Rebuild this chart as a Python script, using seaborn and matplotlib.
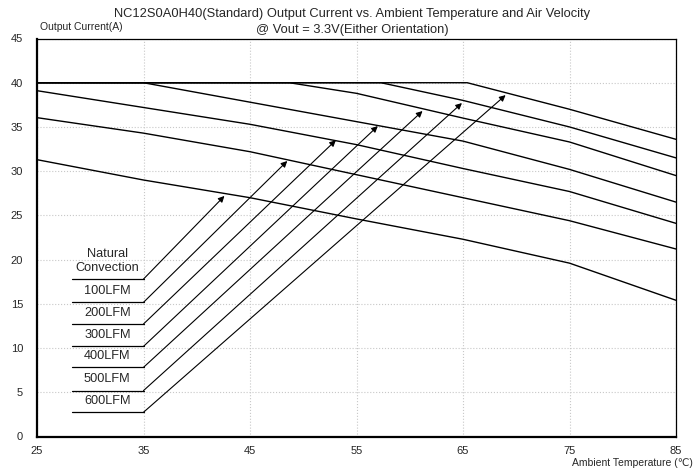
import numpy as np
import pandas as pd
import matplotlib
matplotlib.use("Agg")
import matplotlib.pyplot as plt
from matplotlib.ticker import MultipleLocator
import seaborn as sns

# derating curves (ambient temp in C, output current in A)
airflows = ["Natural Convection", "100LFM", "200LFM", "300LFM", "400LFM", "500LFM", "600LFM"]
curve_temp = {
    "Natural Convection": [25, 35, 45, 55, 65, 75, 85],
    "100LFM": [25, 35, 45, 55, 65, 75, 85],
    "200LFM": [25, 35, 45, 55, 65, 75, 85],
    "300LFM": [25, 35, 45, 55, 65, 75, 85],
    "400LFM": [25, 48.7, 55, 65, 75, 85],
    "500LFM": [25, 57.3, 65, 75, 85],
    "600LFM": [25, 65.4, 75, 85],
}
curve_current = {
    "Natural Convection": [31.3, 29.0, 27.0, 24.6, 22.3, 19.6, 15.4],
    "100LFM": [36.05, 34.3, 32.2, 29.6, 27.0, 24.4, 21.2],
    "200LFM": [39.1, 37.2, 35.3, 33.0, 30.3, 27.7, 24.1],
    "300LFM": [40.0, 40.0, 37.8, 35.6, 33.4, 30.2, 26.5],
    "400LFM": [40.0, 40.0, 38.8, 36.0, 33.3, 29.5],
    "500LFM": [40.0, 40.0, 38.0, 35.0, 31.5],
    "600LFM": [40.0, 40.0, 37.0, 33.6],
}

# callout labels: underline height and arrow tip on each curve
label_text = ["Natural\nConvection", "100LFM", "200LFM", "300LFM", "400LFM", "500LFM", "600LFM"]
label_y = [17.8, 15.17, 12.72, 10.19, 7.82, 5.19, 2.74]
tip_x = [42.6, 48.5, 53.06, 57.0, 61.2, 64.9, 69.0]
tip_y = [27.2, 31.15, 33.5, 35.1, 36.8, 37.7, 38.6]

x_ticks = [25, 35, 45, 55, 65, 75, 85]

rows = []
for name in airflows:
    for t, c in zip(curve_temp[name], curve_current[name]):
        rows.append({"airflow": name, "temp": t, "current": c})
df = pd.DataFrame(rows)

sns.set_style("white")
plt.rcParams["font.family"] = ["Liberation Sans", "DejaVu Sans"]

fig = plt.figure(figsize=(6.95, 4.70), dpi=100)
ax = fig.add_axes([37 / 695, 1 - 436.5 / 470, 639 / 695, 398 / 470])

sns.lineplot(data=df, x="temp", y="current", hue="airflow", hue_order=airflows,
             palette=["black"] * len(airflows), estimator=None, sort=False,
             linewidth=1.0, legend=False, ax=ax)

for txt, ly, tx, ty in zip(label_text, label_y, tip_x, tip_y):
    ax.plot([28.25, 35], [ly, ly], color="black", lw=0.9)
    ax.annotate("", xy=(tx, ty), xytext=(35, ly),
                arrowprops=dict(arrowstyle="-|>", color="black", lw=0.8,
                                mutation_scale=9, shrinkA=0, shrinkB=0))
    ax.text(31.6, ly + 0.6, txt, ha="center", va="bottom", fontsize=9.2,
            linespacing=1.15)

ax.set_xlim(25, 85)
ax.set_ylim(0, 45)
ax.set_xticks(x_ticks)
ax.set_xticks(np.arange(25, 86, 2), minor=True)
ax.yaxis.set_major_locator(MultipleLocator(5))
ax.yaxis.set_minor_locator(MultipleLocator(1))
ax.tick_params(which="both", direction="in", color="black", labelsize=8)
ax.tick_params(which="major", length=3, width=0.8)
ax.tick_params(which="minor", length=2.5, width=0.6)
ax.tick_params(axis="x", pad=7)
ax.tick_params(axis="y", pad=10)
ax.grid(True, which="major", color="#c8c8c8", linestyle=":", linewidth=0.8)
ax.set_xlabel("")
ax.set_ylabel("")

for side in ["left", "bottom"]:
    ax.spines[side].set_linewidth(1.6)
    ax.spines[side].set_color("black")
for side in ["top", "right"]:
    ax.spines[side].set_linewidth(0.9)
    ax.spines[side].set_color("black")

fig.text(352 / 695, 1 - 14 / 470,
         "NC12S0A0H40(Standard) Output Current vs. Ambient Temperature and Air Velocity",
         ha="center", va="center", fontsize=9.3)
fig.text(352 / 695, 1 - 30 / 470, "@ Vout = 3.3V(Either Orientation)",
         ha="center", va="center", fontsize=9.3)
fig.text(40 / 695, 1 - 27 / 470, "Output Current(A)", ha="left", va="center", fontsize=7.5)
fig.text(693 / 695, 1 - 463 / 470, "Ambient Temperature (\u2103)", ha="right",
         va="center", fontsize=7.5)

fig.savefig("out.png", dpi=100)
